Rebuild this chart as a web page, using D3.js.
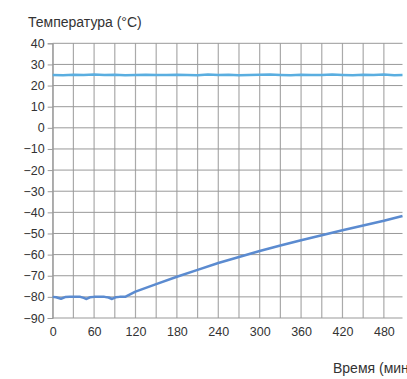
<!DOCTYPE html>
<html>
<head>
<meta charset="utf-8">
<script src="https://cdn.jsdelivr.net/npm/d3@7"></script>
<style>
  body { margin: 0; background: #fff; overflow: hidden; }
  text { font-family: "Liberation Sans", Arial, sans-serif; fill: #333; }
</style>
</head>
<body>
<div class="chart"></div>
<script>
// ambient temperature (light blue), minutes -> °C
const roomTime = [0, 15, 30, 45, 60, 75, 90, 105, 120, 135, 150, 165, 180, 195, 210, 225, 240, 255, 270, 285, 300, 315, 330, 345, 360, 375, 390, 405, 420, 435, 450, 465, 480, 495, 507];
const roomTemp = [25, 24.9, 25.1, 25, 25.2, 25, 25.1, 24.9, 25, 25.1, 25, 25, 25.1, 25, 24.9, 25.2, 25, 25.1, 24.9, 25, 25.1, 25.2, 25, 24.9, 25.1, 25, 25, 25.2, 25, 24.9, 25.1, 25, 25.2, 24.9, 25];

// sample temperature (dark blue)
const sampleTime = [0, 5, 12, 18, 25, 40, 45, 49, 54, 60, 75, 81, 86, 91, 97, 105, 120, 150, 180, 210, 240, 270, 300, 330, 360, 390, 420, 450, 480, 507];
const sampleTemp = [-80, -80.2, -80.9, -80.1, -80, -80, -80.5, -81, -80.2, -80, -80, -80.3, -81, -80.2, -80, -80, -77.5, -74, -70.5, -67.2, -64, -61.1, -58.3, -55.7, -53.2, -50.8, -48.5, -46.2, -44, -41.7];

const xTicks = [0, 60, 120, 180, 240, 300, 360, 420, 480];
const xGrid = d3.range(0, 481, 30);
const yTicks = [40, 30, 20, 10, 0, -10, -20, -30, -40, -50, -60, -70, -80, -90];

const yTitle = "Температура (°C)";
const xTitle = "Время (мин)";

const width = 407, height = 379;

const svg = d3.select(".chart").append("svg")
    .attr("width", width)
    .attr("height", height);

// scales
const x = d3.scaleLinear().domain([0, 507]).range([52.7, 402.5]);
const y = d3.scaleLinear().domain([-90, 40]).range([318, 43.3]);

// vertical grid
svg.append("g").selectAll("line")
    .data(xGrid)
    .enter().append("line")
    .attr("x1", d => x(d)).attr("x2", d => x(d))
    .attr("y1", y(40)).attr("y2", y(-90))
    .attr("stroke", "#aaa")
    .attr("stroke-width", 1.2);

// horizontal grid
svg.append("g").selectAll("line")
    .data(yTicks)
    .enter().append("line")
    .attr("x1", x(0)).attr("x2", x(507))
    .attr("y1", d => y(d)).attr("y2", d => y(d))
    .attr("stroke", "#999")
    .attr("stroke-width", 1);

// y axis
const yAxis = d3.axisLeft(y).tickValues(yTicks).tickSize(5).tickPadding(3);
const gy = svg.append("g")
    .attr("transform", "translate(" + x(0) + ",0)")
    .call(yAxis);
gy.select(".domain").attr("stroke", "#999");
gy.selectAll(".tick line").attr("stroke", "#999");
gy.selectAll(".tick text")
    .style("font-size", "12.5px")
    .attr("fill", "#333")
    .attr("font-family", "Liberation Sans, Arial, sans-serif");

// x axis (labels only)
const xAxis = d3.axisBottom(x).tickValues(xTicks).tickSize(0).tickPadding(9);
const gx = svg.append("g")
    .attr("transform", "translate(0," + y(-90) + ")")
    .call(xAxis);
gx.select(".domain").remove();
gx.selectAll(".tick text")
    .style("font-size", "12.5px")
    .attr("fill", "#333")
    .attr("font-family", "Liberation Sans, Arial, sans-serif");

// lines
const line = d3.line()
    .x(d => x(d[0]))
    .y(d => y(d[1]));

svg.append("path")
    .datum(roomTime.map((t, i) => [t, roomTemp[i]]))
    .attr("d", line)
    .attr("fill", "none")
    .attr("stroke", "#5aaee0")
    .attr("stroke-width", 2.5);

svg.append("path")
    .datum(sampleTime.map((t, i) => [t, sampleTemp[i]]))
    .attr("d", line)
    .attr("fill", "none")
    .attr("stroke", "#5b8bd0")
    .attr("stroke-width", 2.5)
    .attr("stroke-linejoin", "round");

// titles
svg.append("text")
    .attr("x", 28)
    .attr("y", 26.5)
    .style("font-size", "14px")
    .text(yTitle);

svg.append("text")
    .attr("x", 333)
    .attr("y", 372.5)
    .style("font-size", "14px")
    .text(xTitle);
</script>
</body>
</html>
